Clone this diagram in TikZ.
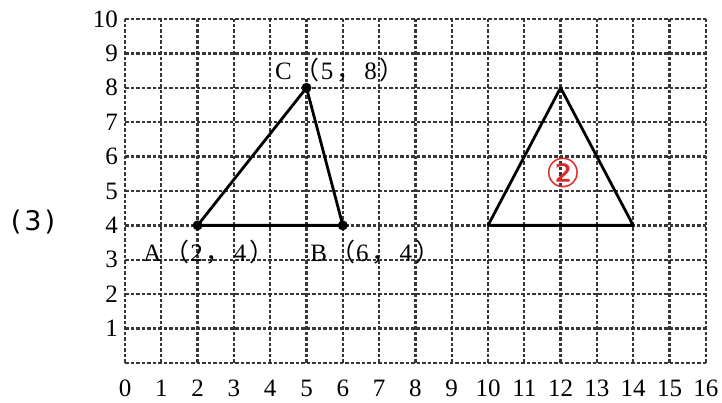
\documentclass[tikz,border=0pt]{standalone}
\usepackage{fontspec}
\setmainfont{Liberation Serif}
\newfontfamily\cjkfont{Noto Sans CJK SC}
\newfontfamily\djvfont{DejaVu Sans}
\newcommand{\mylp}{\kern3pt{\cjkfont （}\kern1pt}
\newcommand{\myrp}{\kern3pt{\cjkfont ）}}
\newcommand{\mycm}{\kern3pt{\cjkfont ，}\kern3pt}
\definecolor{gridgray}{RGB}{55,55,55}
\definecolor{markred}{RGB}{220,40,40}
\begin{document}
\begin{tikzpicture}[x=36.3pt,y=34.4pt,
  gridline/.style={gridgray,line width=2.3pt,dash pattern=on 3.5pt off 2pt},
  edge/.style={black,line width=2.8pt,line join=round},
  ticklab/.style={inner sep=0pt,font=\fontsize{25}{25}\selectfont},
  ptlab/.style={inner sep=0pt,anchor=base west,font=\fontsize{25}{25}\selectfont},
  dot/.style={circle,fill=black,inner sep=0pt,minimum size=10pt}]
\useasboundingbox (-125pt,-40pt) rectangle (597pt,363pt);
% grid
\foreach \i in {0,...,16} \draw[gridline] (\i,0) -- (\i,10);
\foreach \j in {0,...,10} \draw[gridline] (0,\j) -- (16,\j);
% tick labels
\foreach \i in {0,...,16} \node[ticklab] (x\i) at (\i,-0.73) {\i};
\foreach \j in {1,...,10} \node[ticklab,anchor=east] (y\j) at (-0.19,\j) {\j};
% triangle ABC
\coordinate (A) at (2,4);
\coordinate (B) at (6,4);
\coordinate (C) at (5,8);
\draw[edge] (A) -- (B) -- (C) -- cycle;
\node[dot] (dA) at (A) {};
\node[dot] (dB) at (B) {};
\node[dot] (dC) at (C) {};
\node[ptlab] (lA) at (0.5,2.94) {A\mylp 2\mycm 4\myrp};
\node[ptlab] (lB) at (5.1,2.94) {B\mylp 6\mycm 4\myrp};
\node[ptlab] (lC) at (4.13,8.23) {C\mylp 5\mycm 8\myrp};
% triangle 2
\coordinate (D) at (10,4);
\coordinate (E) at (14,4);
\coordinate (F) at (12,8);
\draw[edge] (D) -- (E) -- (F) -- cycle;
\node[markred,inner sep=0pt,font=\djvfont\fontsize{40}{40}\selectfont] (m2) at (12.07,5.52) {②};
% part label
\node[inner sep=0pt,font=\djvfont\fontsize{27}{27}\selectfont] (part) at (-92pt,141pt) {(\kern3pt3\kern3pt)};
\end{tikzpicture}
\end{document}
